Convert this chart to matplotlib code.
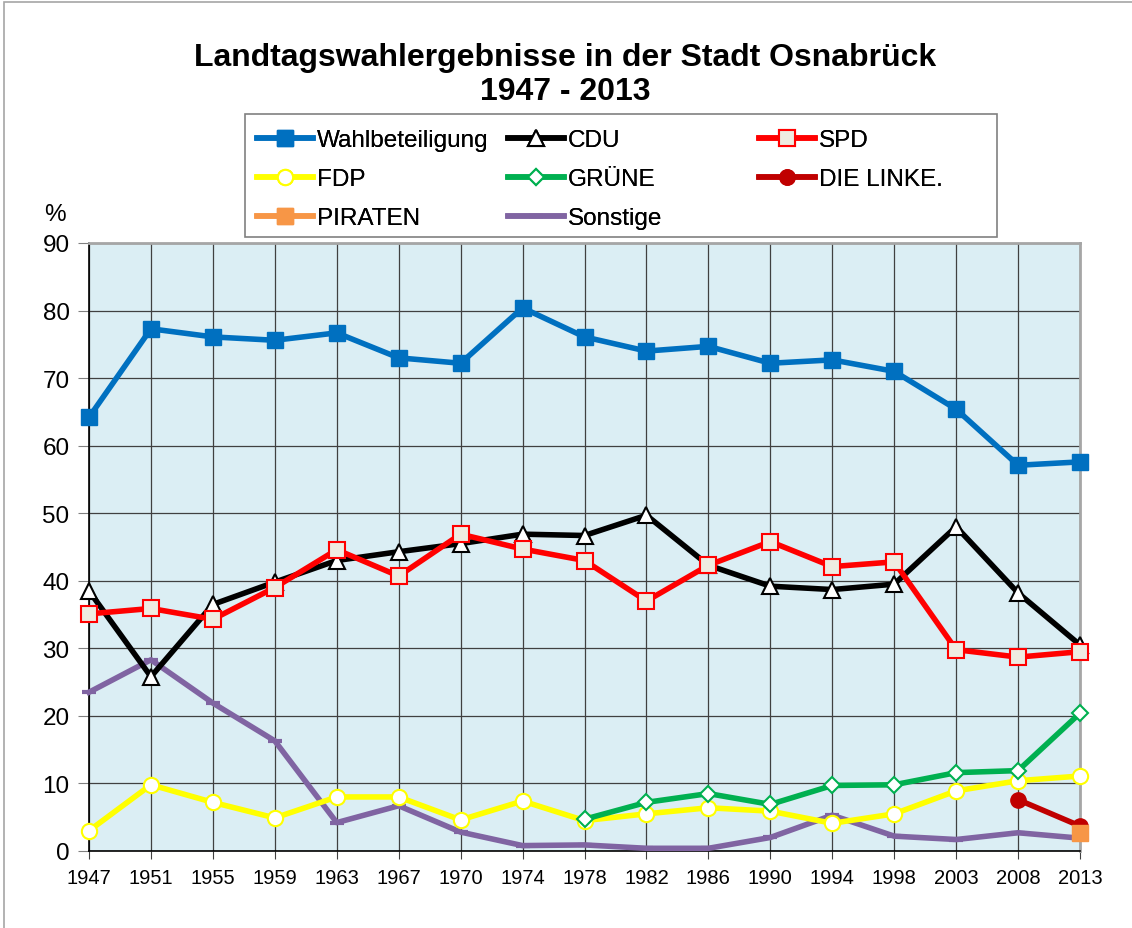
import matplotlib
matplotlib.use("Agg")
import matplotlib.pyplot as plt
import numpy as np
from matplotlib.patches import Rectangle

plt.rcParams['font.family'] = ['Liberation Sans', 'DejaVu Sans']

years = ["1947", "1951", "1955", "1959", "1963", "1967", "1970", "1974", "1978",
         "1982", "1986", "1990", "1994", "1998", "2003", "2008", "2013"]
wahlbeteiligung = [64.2, 77.3, 76.1, 75.6, 76.7, 73.0, 72.2, 80.4, 76.1,
                   74.0, 74.7, 72.2, 72.7, 71.0, 65.4, 57.1, 57.6]
cdu = [38.5, 25.8, 36.5, 39.8, 43.0, 44.3, 45.5, 46.9, 46.7,
       49.7, 42.3, 39.2, 38.7, 39.5, 48.0, 38.2, 30.5]
spd = [35.1, 35.9, 34.3, 39.0, 44.6, 40.7, 46.9, 44.7, 43.0,
       37.0, 42.3, 45.8, 42.1, 42.8, 29.8, 28.7, 29.5]
fdp = [3.0, 9.8, 7.2, 4.9, 8.0, 8.0, 4.6, 7.4, 4.5,
       5.5, 6.4, 5.9, 4.1, 5.5, 8.9, 10.4, 11.1]
gruene = [None] * 8 + [4.7, 7.2, 8.5, 6.9, 9.7, 9.8, 11.6, 11.9, 20.4]
linke = [None] * 15 + [7.6, 3.7]
piraten = [None] * 16 + [2.7]
sonstige = [23.5, 28.3, 21.9, 16.3, 4.2, 6.7, 2.8, 0.8, 0.9,
            0.4, 0.4, 2.0, 5.3, 2.2, 1.7, 2.7, 1.9]

def arr(v):
    return np.array([np.nan if x is None else x for x in v], dtype=float)

x = np.arange(len(years))
W, H = 1132, 929

fig = plt.figure(figsize=(11.32, 9.29), dpi=100)
fig.patches.append(Rectangle((0.0035, -0.01), 1.0, 1.0065, transform=fig.transFigure,
                             fill=False, edgecolor='#A6A6A6', linewidth=1.2))
ax = fig.add_axes([89 / W, 1 - 852 / H, (1080 - 89) / W, (852 - 244) / H])
ax.set_facecolor('#DBEEF4')

lw = 4
common = dict(clip_on=False)
h_w, = ax.plot(x, arr(wahlbeteiligung), color='#0070C0', lw=lw, marker='s', ms=12,
               mfc='#0070C0', mec='#0070C0', label='Wahlbeteiligung', zorder=5, **common)
h_c, = ax.plot(x, arr(cdu), color='black', lw=lw, marker='^', ms=11,
               mfc='white', mec='black', mew=1.5, label='CDU', zorder=5, **common)
h_s, = ax.plot(x, arr(spd), color='#FF0000', lw=lw, marker='s', ms=12,
               mfc='#EEECE1', mec='#FF0000', mew=1.5, label='SPD', zorder=5, **common)
h_f, = ax.plot(x, arr(fdp), color='#FFFF00', lw=lw, marker='o', ms=11,
               mfc='white', mec='#FFFF00', mew=1.5, label='FDP', zorder=4, **common)
h_g, = ax.plot(x, arr(gruene), color='#00B050', lw=lw, marker='D', ms=8,
               mfc='white', mec='#00B050', mew=1.5, label='GRÜNE', zorder=4, **common)
h_l, = ax.plot(x, arr(linke), color='#C00000', lw=lw, marker='o', ms=11,
               mfc='#C00000', mec='#C00000', label='DIE LINKE.', zorder=6, **common)
h_p, = ax.plot(x, arr(piraten), color='#F79646', lw=lw, marker='s', ms=12,
               mfc='#F79646', mec='#F79646', label='PIRATEN', zorder=6, **common)
h_o, = ax.plot(x, arr(sonstige), color='#8064A2', lw=lw, marker='_', ms=10,
               mew=3, mec='#8064A2', label='Sonstige', zorder=3, **common)

ax.set_xlim(0, 16)
ax.set_ylim(0, 90)
ax.set_yticks(np.arange(0, 91, 10))
ax.set_xticks(x)
ax.set_xticklabels(years, fontsize=14.5)
ax.tick_params(axis='y', labelsize=17.5, length=8, direction='out', color='#808080', pad=6)
ax.tick_params(axis='x', length=6, direction='out', color='#404040', pad=6)
ax.grid(True, color='#404040', lw=0.9)
ax.set_axisbelow(True)
for side in ['top', 'right']:
    ax.spines[side].set_color('#A6A6A6')
    ax.spines[side].set_linewidth(2)
for side in ['left', 'bottom']:
    ax.spines[side].set_color('black')
    ax.spines[side].set_linewidth(1.2)

fig.text(55 / W, 1 - 215 / H, '%', fontsize=17.5, ha='center', va='center')

fig.text(0.499, 1 - 75 / H, 'Landtagswahlergebnisse in der Stadt Osnabrück\n1947 - 2013',
         fontsize=23, fontweight='bold', ha='center', va='center', linespacing=1.15)

# legend frame
fig.patches.append(Rectangle((245 / W, 1 - 238 / H), 752 / W, 123 / H, transform=fig.transFigure,
                             fill=False, edgecolor='#808080', linewidth=1.2, zorder=10))
columns = [[h_w, h_f, h_p], [h_c, h_g, h_o], [h_s, h_l]]
col_x = [257, 508, 759]
for hs, cx in zip(columns, col_x):
    lg = fig.legend(handles=hs, labels=[h.get_label() for h in hs],
                    loc='upper left', bbox_to_anchor=(cx / W, 1 - 130 / H),
                    fontsize=17.5, frameon=False, handlelength=2.3, handletextpad=0.17,
                    borderaxespad=0, borderpad=0, labelspacing=0.7)
    fig.add_artist(lg)

fig.savefig('out.png', dpi=100)
